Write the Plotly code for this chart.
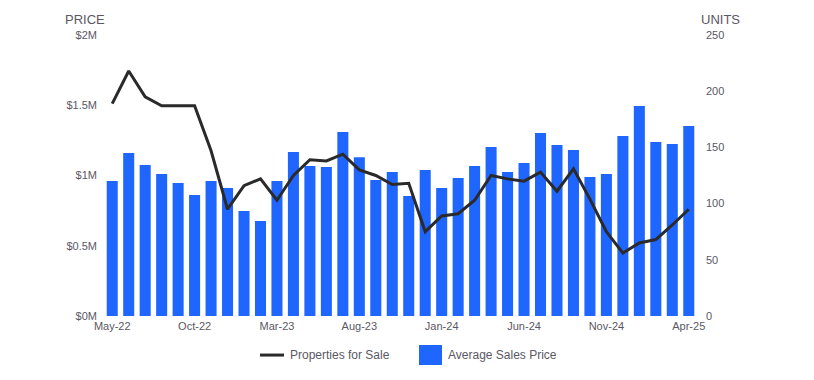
import plotly.graph_objects as go

months = ["May-22","Jun-22","Jul-22","Aug-22","Sep-22","Oct-22","Nov-22","Dec-22",
          "Jan-23","Feb-23","Mar-23","Apr-23","May-23","Jun-23","Jul-23","Aug-23",
          "Sep-23","Oct-23","Nov-23","Dec-23","Jan-24","Feb-24","Mar-24","Apr-24",
          "May-24","Jun-24","Jul-24","Aug-24","Sep-24","Oct-24","Nov-24","Dec-24",
          "Jan-25","Feb-25","Mar-25","Apr-25"]

# Average sales price, $ millions
avg_price = [0.96, 1.16, 1.075, 1.01, 0.947, 0.861, 0.961, 0.911,
             0.747, 0.676, 0.961, 1.167, 1.068, 1.06, 1.31, 1.13,
             0.968, 1.025, 0.854, 1.04, 0.911, 0.982, 1.068, 1.203,
             1.025, 1.089, 1.302, 1.217, 1.181, 0.989, 1.01, 1.281,
             1.495, 1.238, 1.224, 1.352]

# Properties for sale, units
props = [189, 218, 195, 187, 187, 187, 147, 95,
         116, 122, 103, 125, 139, 138, 144, 130,
         125, 117, 118, 75, 89, 91, 103, 125,
         122, 120, 128, 111, 131, 104, 75, 56,
         65, 68, 81, 95]

xtick_labels = ["May-22","Oct-22","Mar-23","Aug-23","Jan-24","Jun-24","Nov-24","Apr-25"]
price_ticks = [0, 0.5, 1, 1.5, 2]
price_tick_labels = ["$0M", "$0.5M", "$1M", "$1.5M", "$2M"]
unit_ticks = [0, 50, 100, 150, 200, 250]

FONT = "Liberation Sans, Arial, sans-serif"
GRAY = "#5a5864"
BAR_COLOR = "#1f66ff"
LINE_COLOR = "#2a2a2a"

fig = go.Figure()
fig.add_trace(go.Bar(x=months, y=avg_price, name="Average Sales Price",
                     marker=dict(color=BAR_COLOR, line=dict(width=0)),
                     yaxis="y", showlegend=False))
fig.add_trace(go.Scatter(x=months, y=props, name="Properties for Sale",
                         mode="lines", line=dict(color=LINE_COLOR, width=3),
                         yaxis="y2", showlegend=False))

tick_font = dict(family=FONT, size=11, color=GRAY)
title_font = dict(family=FONT, size=13, color=GRAY)
legend_font = dict(family=FONT, size=12, color=GRAY)

# Legend drawn in paper coordinates below the plot
LEG_Y = -0.139
shapes = [
    dict(type="line", xref="paper", yref="paper", x0=0.263, x1=0.3035, y0=LEG_Y, y1=LEG_Y,
         line=dict(color=LINE_COLOR, width=3)),
    dict(type="rect", xref="paper", yref="paper", x0=0.5312, x1=0.570, y0=-0.1032, y1=-0.1744,
         fillcolor=BAR_COLOR, line=dict(width=0)),
]

annotations = [
    dict(text="PRICE", xref="paper", yref="paper", x=0, xshift=3, y=1, yshift=6,
         xanchor="right", yanchor="bottom", showarrow=False, font=title_font),
    dict(text="UNITS", xref="paper", yref="paper", x=1, xshift=2, y=1, yshift=6,
         xanchor="left", yanchor="bottom", showarrow=False, font=title_font),
    dict(text="Properties for Sale", xref="paper", yref="paper", x=0.311, y=LEG_Y,
         xanchor="left", yanchor="middle", showarrow=False, font=legend_font),
    dict(text="Average Sales Price", xref="paper", yref="paper", x=0.577, y=LEG_Y,
         xanchor="left", yanchor="middle", showarrow=False, font=legend_font),
]

fig.update_layout(
    width=814, height=380,
    margin=dict(l=96, r=125, t=27, b=72, autoexpand=False),
    plot_bgcolor="white", paper_bgcolor="white",
    bargap=0.33,
    showlegend=False,
    xaxis=dict(type="category", tickmode="array", tickvals=xtick_labels, ticktext=xtick_labels,
               showgrid=False, zeroline=False, showline=False, ticks="",
               tickfont=tick_font, ticklabelstandoff=2, automargin=False),
    yaxis=dict(range=[0, 2], tickmode="array", tickvals=price_ticks, ticktext=price_tick_labels,
               showgrid=False, zeroline=False, showline=False, ticks="",
               tickfont=tick_font, ticklabelstandoff=6, automargin=False),
    yaxis2=dict(range=[0, 250], tickmode="array", tickvals=unit_ticks,
                overlaying="y", side="right",
                showgrid=False, zeroline=False, showline=False, ticks="",
                tickfont=tick_font, ticklabelstandoff=8, automargin=False),
    shapes=shapes,
    annotations=annotations,
)

fig.write_html("out.html")
